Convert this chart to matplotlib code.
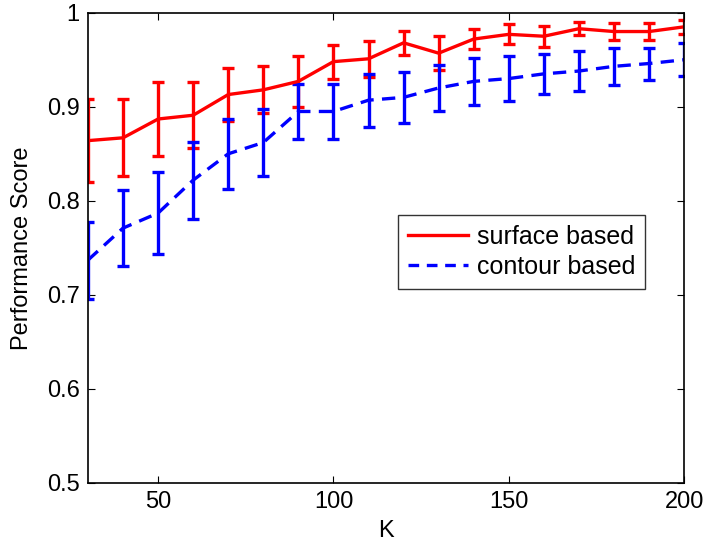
import numpy as np
import matplotlib
matplotlib.use("Agg")
import matplotlib.pyplot as plt
from matplotlib.lines import Line2D

plt.rcParams['font.family'] = ['Liberation Sans', 'DejaVu Sans']

K = [30, 40, 50, 60, 70, 80, 90, 100, 110, 120, 130, 140, 150, 160, 170, 180, 190, 200]

# surface based
surf = [0.864, 0.867, 0.887, 0.891, 0.913, 0.918, 0.927, 0.948, 0.951, 0.968,
        0.957, 0.972, 0.977, 0.975, 0.983, 0.980, 0.980, 0.985]
surf_err = [0.044, 0.041, 0.039, 0.035, 0.028, 0.025, 0.027, 0.018, 0.019, 0.013,
            0.018, 0.011, 0.0105, 0.011, 0.007, 0.0095, 0.009, 0.0075]

# contour based
cont = [0.737, 0.771, 0.787, 0.822, 0.850, 0.862, 0.895, 0.895, 0.907, 0.910,
        0.920, 0.927, 0.930, 0.935, 0.938, 0.943, 0.946, 0.950]
cont_err = [0.041, 0.040, 0.044, 0.041, 0.037, 0.036, 0.029, 0.029, 0.028, 0.027,
            0.024, 0.025, 0.024, 0.021, 0.021, 0.020, 0.017, 0.0175]

fig = plt.figure(figsize=(7.06, 5.46), dpi=100)
ax = fig.add_axes([0.1246, 0.1154, 0.969 - 0.1246, 0.9767 - 0.1154])

lw = 2.4
ax.errorbar(K, surf, yerr=surf_err, color='red', linestyle='-', linewidth=lw,
            elinewidth=lw, capsize=4.3, capthick=lw)
ax.errorbar(K, cont, yerr=cont_err, color='blue', linestyle='--', dashes=(4, 2.5),
            linewidth=lw, elinewidth=lw, capsize=4.3, capthick=lw)

ax.set_xlim([30, 200])
ax.set_ylim([0.5, 1.0])
ax.set_xticks([50, 100, 150, 200])
ax.set_yticks([0.5, 0.6, 0.7, 0.8, 0.9, 1.0])
ax.set_yticklabels(['0.5', '0.6', '0.7', '0.8', '0.9', '1'])
ax.tick_params(direction='in', top=True, right=True, length=5, labelsize=17, pad=6)
for s in ax.spines.values():
    s.set_linewidth(1.2)

ax.set_xlabel("K", fontsize=17, labelpad=5)
ax.set_ylabel("Performance Score", fontsize=17, labelpad=10)

handles = [Line2D([], [], color='red', linestyle='-', linewidth=lw),
           Line2D([], [], color='blue', linestyle='--', dashes=(3.2, 2.3), linewidth=lw)]
leg = ax.legend(handles, ['surface based', 'contour based'], loc='upper left',
                bbox_to_anchor=(0.52, 0.57), fontsize=18, frameon=True,
                fancybox=False, edgecolor='black', handlelength=2.4,
                handletextpad=0.35, borderpad=0.4, labelspacing=0.25,
                borderaxespad=0)
leg.get_frame().set_linewidth(1.0)

fig.savefig("out.png", dpi=100)
